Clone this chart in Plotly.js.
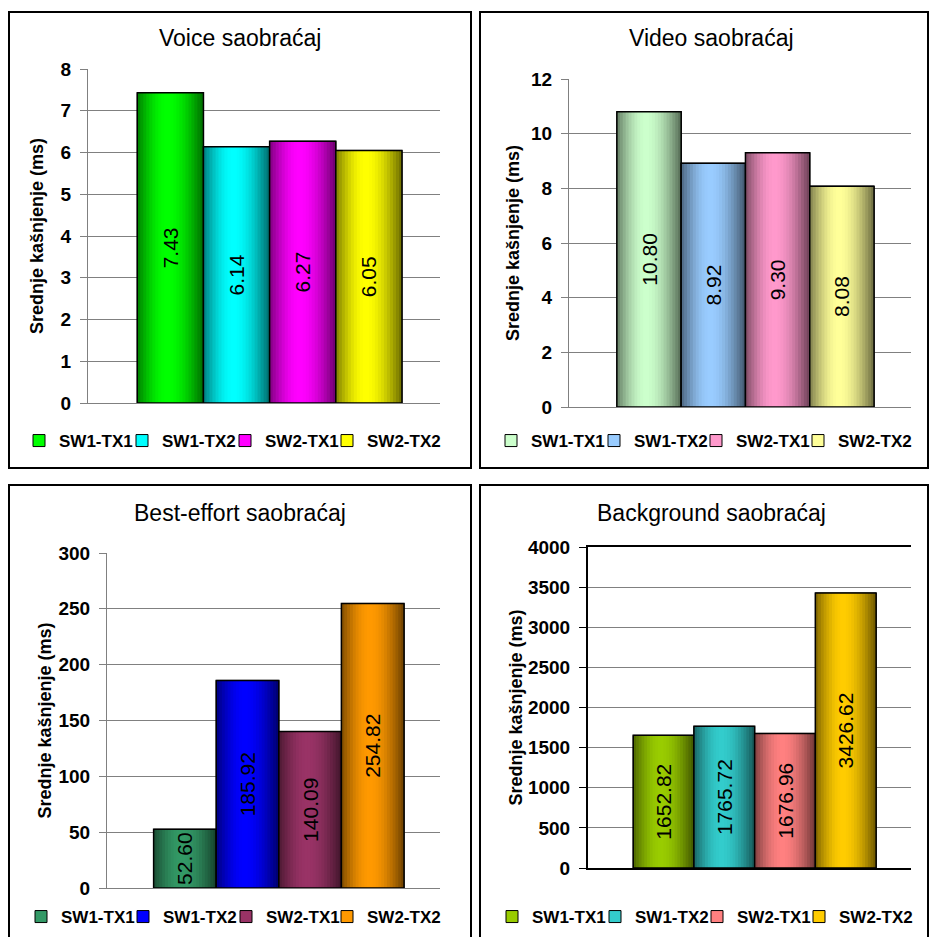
<!DOCTYPE html>
<html><head><meta charset="utf-8">
<script src="https://cdn.plot.ly/plotly-3.0.1.min.js"></script>
<style>html,body{margin:0;padding:0;background:#fff;} #chart{width:930px;height:937px;}</style>
</head><body><div id="chart"></div>
<script>
// ---- data ----
const seriesNames = ['SW1-TX1', 'SW1-TX2', 'SW2-TX1', 'SW2-TX2'];
const panelTitles = ['Voice saobraćaj', 'Video saobraćaj', 'Best-effort saobraćaj', 'Background saobraćaj'];
const yAxisTitle = 'Srednje kašnjenje (ms)';
const voiceValues = [7.43, 6.14, 6.27, 6.05];
const videoValues = [10.80, 8.92, 9.30, 8.08];
const bestEffortValues = [52.60, 185.92, 140.09, 254.82];
const backgroundValues = [1652.82, 1765.72, 1676.96, 3426.62];
const yRanges = [[0, 8], [0, 12], [0, 300], [0, 4000]];
const yDticks = [1, 2, 50, 500];

// ---- styles ----
const panelValues = [voiceValues, videoValues, bestEffortValues, backgroundValues];
const panelColors = [
  ['#00FF00', '#00FFFF', '#FF00FF', '#FFFF00'],
  ['#CCFFCC', '#99CCFF', '#FF99CC', '#FFFF99'],
  ['#339966', '#0000FF', '#993366', '#FF9900'],
  ['#99CC00', '#33CCCC', '#FF8080', '#FFCC00']
];
const W = 930, H = 937;
const FONT = 'Liberation Sans, Arial, sans-serif';
// plot areas in px: [left, right, top, bottom]
const plotBoxes = [[88, 440, 69, 403], [569, 911, 79, 407], [107, 440, 553, 888], [588, 911, 547, 868]];
const borders = [[9, 471, 12, 468], [480, 928, 12, 468], [9, 471, 485, 950], [480, 928, 485, 950]];
const titlePos = [[240, 38], [711, 38], [240, 513], [711, 513]];
const legendTextX = [[56, 159, 262, 364], [528, 631, 733, 835], [58, 160, 263, 364], [529, 632, 734, 836]];
const legendY = [441, 441, 917, 917];
const titleStandoff = [12, 6, 2, 1];

const px = x => x / W;
const py = y => 1 - y / H;

function shade(hex, f) {
  const r = parseInt(hex.slice(1, 3), 16), g = parseInt(hex.slice(3, 5), 16), b = parseInt(hex.slice(5, 7), 16);
  return 'rgb(' + Math.round(r * f) + ',' + Math.round(g * f) + ',' + Math.round(b * f) + ')';
}
function gradF(t) {
  const p = 0.45;
  if (t < p) return 0.5 + 0.5 * Math.sin(Math.PI / 2 * t / p);
  const u = (t - p) / (1 - p);
  return 1 - 0.58 * (1 - Math.cos(Math.PI / 2 * u));
}

const lead = -0.36, bw = 0.188, NS = 22, sw = bw / NS;
const traces = [];
const layout = {
  width: W, height: H, margin: {l: 0, r: 0, t: 0, b: 0},
  paper_bgcolor: '#fff', plot_bgcolor: '#fff',
  barmode: 'overlay', showlegend: true,
  font: {family: FONT, color: '#000'},
  annotations: [], shapes: []
};

for (let p = 0; p < 4; p++) {
  const n = p === 0 ? '' : String(p + 1);
  const xa = 'x' + n, ya = 'y' + n;
  const cat = [panelTitles[p]];
  const vals = panelValues[p];
  for (let i = 0; i < 4; i++) {
    const li = p * 4 + i;
    const leg = li === 0 ? 'legend' : 'legend' + (li + 1);
    const base = panelColors[p][i];
    const off = lead + i * bw;
    traces.push({type: 'bar', x: cat, y: [vals[i]], xaxis: xa, yaxis: ya, name: seriesNames[i],
      legend: leg, showlegend: true, offset: off, width: bw, hoverinfo: 'skip',
      marker: {color: base, line: {color: '#000', width: 1}}});
    for (let k = 0; k < NS; k++) {
      const t = (k + 0.5) / NS;
      traces.push({type: 'bar', x: cat, y: [vals[i]], xaxis: xa, yaxis: ya, showlegend: false,
        legend: leg, offset: off + k * sw, width: Math.min(sw * 1.6, bw - k * sw), hoverinfo: 'skip',
        marker: {color: shade(base, gradF(t)), line: {width: 0}}});
    }
    traces.push({type: 'bar', x: cat, y: [vals[i]], xaxis: xa, yaxis: ya, showlegend: false,
      legend: leg, offset: off, width: bw, hoverinfo: 'skip',
      text: [vals[i].toFixed(2)], textposition: 'inside', textangle: -90,
      insidetextanchor: 'middle', constraintext: 'none', cliponaxis: false,
      textfont: {family: FONT, size: 21, color: '#000'},
      marker: {color: 'rgba(0,0,0,0)', line: {color: '#000', width: 1.5}}});
    layout[leg] = {orientation: 'h', x: px(legendTextX[p][i] - 37), y: py(legendY[p]), xanchor: 'left', yanchor: 'middle',
      font: {family: FONT, size: 17, color: '#000', weight: 'bold'}, bgcolor: 'rgba(0,0,0,0)',
      itemclick: false, itemdoubleclick: false};
  }
  const box = plotBoxes[p];
  const isBg = p === 3;
  const lineCol = isBg ? '#000' : '#808080';
  layout['xaxis' + n] = {domain: [px(box[0]), px(box[1])], anchor: ya, range: [-0.5, 0.5],
    showticklabels: false, ticks: '', showgrid: false, zeroline: false, fixedrange: true,
    showline: true, linecolor: lineCol, linewidth: isBg ? 2 : 1, mirror: isBg ? true : false};
  layout['yaxis' + n] = {domain: [py(box[3]), py(box[2])], anchor: xa, range: yRanges[p],
    dtick: yDticks[p], tick0: 0, showgrid: true, gridcolor: '#808080', gridwidth: 1, zeroline: false,
    showline: true, linecolor: lineCol, linewidth: isBg ? 2 : 1,
    ticks: 'outside', ticklen: 7, tickcolor: lineCol, tickwidth: 1, fixedrange: true, ticklabelstandoff: 5,
    tickfont: {family: FONT, size: 19, color: '#000', weight: 'bold'},
    title: {text: yAxisTitle, standoff: titleStandoff[p], font: {family: FONT, size: 18, color: '#000', weight: 'bold'}}};
  layout.annotations.push({text: panelTitles[p], xref: 'paper', yref: 'paper', x: px(titlePos[p][0]), y: py(titlePos[p][1]),
    xanchor: 'center', yanchor: 'middle', showarrow: false, font: {family: FONT, size: 23, color: '#000'}});
  const b = borders[p];
  layout.shapes.push({type: 'rect', xref: 'paper', yref: 'paper', x0: px(b[0]), x1: px(b[1]), y0: py(b[3]), y1: py(b[2]),
    line: {color: '#000', width: 2}, fillcolor: 'rgba(0,0,0,0)', layer: 'above'});
}

Plotly.newPlot('chart', traces, layout, {displayModeBar: false, staticPlot: true});
</script>
</body></html>
